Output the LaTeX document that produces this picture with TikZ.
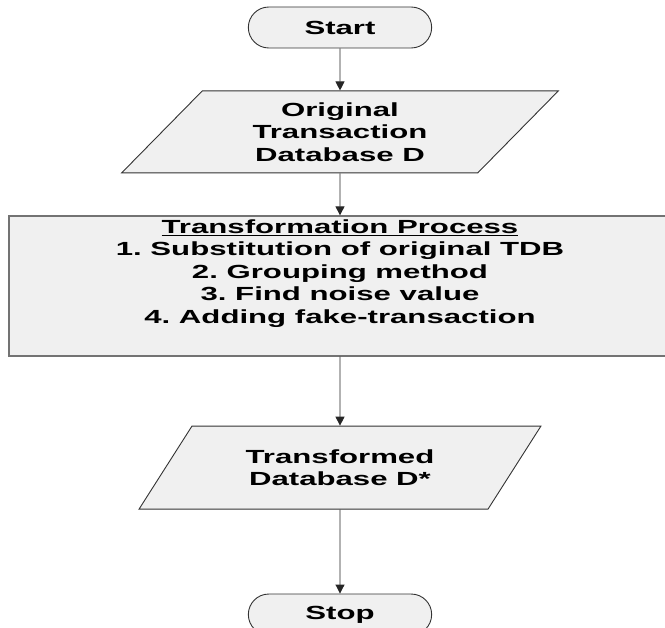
\documentclass[tikz,border=0pt]{standalone}
\usepackage{fontspec}
\setmainfont[FakeStretch=1.64]{Liberation Sans}
\usetikzlibrary{positioning,shapes.misc,shapes.geometric,arrows.meta}
\frenchspacing

\begin{document}
\begin{tikzpicture}[node distance=42pt, line width=0.9pt,
		every node/.style={font=\bfseries\fontsize{19}{22.5}\selectfont},
		terminal/.style={draw=black!80, fill=black!6, rounded rectangle, minimum width=190pt, minimum height=41pt},
		data/.style={draw=black!80, fill=black!6, trapezium, trapezium left angle=51, trapezium right angle=129,
			trapezium stretches=true, align=center},
		process/.style={draw=black!55, line width=1.6pt, fill=black!6, minimum width=662pt, minimum height=138pt, align=center},
		arrow/.style={-{Triangle[length=9pt,width=9pt]}, draw=black!85}]
	\useasboundingbox (0,0) rectangle (665pt,-628pt);
	\node[terminal] (start) at (340pt,-27.5pt) {Start};
	\node[data, minimum width=438pt, minimum height=82pt] (orig) [below=of start] {Original\\Transaction\\Database D};
	\node[process] (proc) [below=of orig] {\underline{Transformation Process}\\1. Substitution of original TDB\\2. Grouping method\\3. Find noise value\\4. Adding fake-transaction\\ \strut};
	\node[data, minimum width=402pt, minimum height=83pt] (trans) [below=69pt of proc] {Transformed\\Database D*};
	\node[terminal] (stop) [below=84pt of trans] {Stop};
	\draw[arrow] (start) -- (orig);
	\draw[arrow] (orig) -- (proc);
	\draw[arrow] (proc) -- (trans);
	\draw[arrow] (trans) -- (stop);
\end{tikzpicture}
\end{document}
